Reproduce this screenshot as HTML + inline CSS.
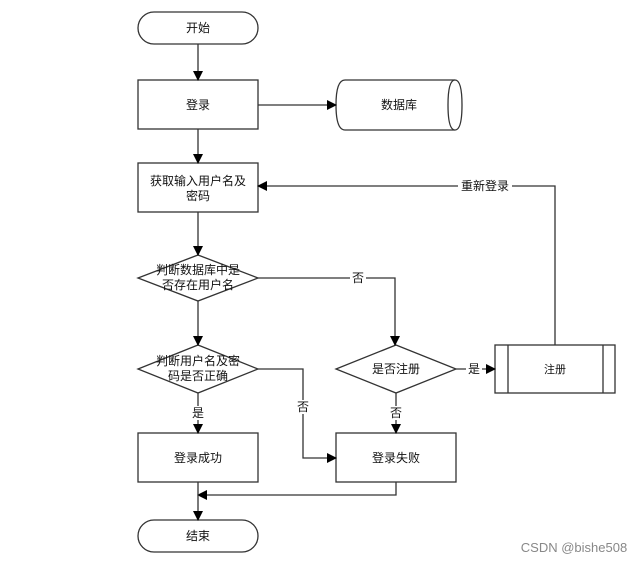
<!DOCTYPE html>
<html><head><meta charset="utf-8"><style>
html,body{margin:0;padding:0;background:#fff;}
svg text{font-family:"Liberation Sans","Noto Sans CJK SC",sans-serif;font-size:12px;fill:#111;}
</style></head><body>
<svg width="644" height="563" viewBox="0 0 644 563" xmlns="http://www.w3.org/2000/svg">
<defs><marker id="a" markerWidth="10" markerHeight="10" refX="9" refY="5" orient="auto" markerUnits="userSpaceOnUse"><path d="M0,0 L10,5 L0,10 z" fill="#000"/></marker></defs>
<g fill="#fff" stroke="#333" stroke-width="1.3">
<rect x="138" y="12" width="120" height="32" rx="16"/>
<rect x="138" y="80" width="120" height="49"/>
<path d="M345,80 H455 Q462,80 462,105 Q462,130 455,130 H345 Q336,130 336,105 Q336,80 345,80 z"/>
<path d="M455,80 Q448,80 448,105 Q448,130 455,130"/>
<rect x="138" y="163" width="120" height="49"/>
<polygon points="198,255 258,278 198,301 138,278"/>
<polygon points="198,345 258,369 198,393 138,369"/>
<polygon points="396,345 456,369 396,393 336,369"/>
<rect x="495" y="345" width="120" height="48"/>
<line x1="508" y1="345" x2="508" y2="393"/><line x1="603" y1="345" x2="603" y2="393"/>
<rect x="138" y="433" width="120" height="49"/>
<rect x="336" y="433" width="120" height="49"/>
<rect x="138" y="520" width="120" height="32" rx="16"/>
</g>
<g fill="none" stroke="#333" stroke-width="1.3">
<line x1="198" y1="44" x2="198" y2="80" marker-end="url(#a)"/>
<line x1="258" y1="105" x2="336" y2="105" marker-end="url(#a)"/>
<line x1="198" y1="129" x2="198" y2="163" marker-end="url(#a)"/>
<line x1="198" y1="212" x2="198" y2="255" marker-end="url(#a)"/>
<line x1="198" y1="301" x2="198" y2="345" marker-end="url(#a)"/>
<polyline points="258,278 395,278 395,345" marker-end="url(#a)"/>
<line x1="456" y1="369" x2="495" y2="369" marker-end="url(#a)"/>
<polyline points="555,345 555,186 258,186" marker-end="url(#a)"/>
<line x1="198" y1="393" x2="198" y2="433" marker-end="url(#a)"/>
<line x1="396" y1="393" x2="396" y2="433" marker-end="url(#a)"/>
<polyline points="258,369 303,369 303,458 336,458" marker-end="url(#a)"/>
<polyline points="396,482 396,495 198,495" marker-end="url(#a)"/>
<line x1="198" y1="482" x2="198" y2="520" marker-end="url(#a)"/>
</g>
<g fill="#fff">
<rect x="350" y="271" width="16" height="14"/><rect x="458" y="179" width="54" height="14"/>
<rect x="466" y="362" width="16" height="14"/><rect x="295" y="400" width="16" height="14"/>
<rect x="190" y="406" width="16" height="14"/><rect x="388" y="406" width="16" height="14"/>
</g>
<g text-anchor="middle">
<text x="198" y="32">开始</text>
<text x="198" y="109">登录</text>
<text x="399" y="109">数据库</text>
<text x="198" y="185">获取输入用户名及</text>
<text x="198" y="200">密码</text>
<text x="198" y="274">判断数据库中是</text>
<text x="198" y="289">否存在用户名</text>
<text x="198" y="365">判断用户名及密</text>
<text x="198" y="380">码是否正确</text>
<text x="396" y="373">是否注册</text>
<text x="555" y="373" style="font-size:11px">注册</text>
<text x="198" y="462">登录成功</text>
<text x="396" y="462">登录失败</text>
<text x="198" y="540">结束</text>
<text x="358" y="282">否</text>
<text x="485" y="190">重新登录</text>
<text x="474" y="373">是</text>
<text x="303" y="411">否</text>
<text x="198" y="417">是</text>
<text x="396" y="417">否</text>
<text x="574" y="552" style="fill:#888;font-size:13px">CSDN @bishe508</text>
</g>
</svg>
</body></html>
